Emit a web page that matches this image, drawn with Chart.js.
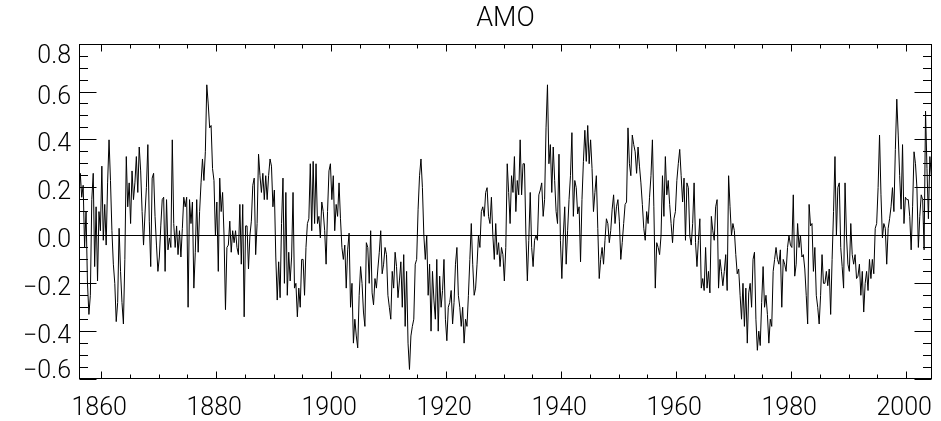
<!DOCTYPE html>
<html>
<head>
<meta charset="utf-8">
<title>AMO</title>
<script src="https://cdn.jsdelivr.net/npm/chart.js@4/dist/chart.umd.min.js"></script>
<style>
  html, body { margin: 0; padding: 0; background: #fff; }
  #wrap { width: 941px; height: 421px; }
</style>
</head>
<body>
<div id="wrap"><canvas id="amo" width="941" height="421"></canvas></div>
<script>
// Atlantic Multidecadal Oscillation index, quarterly values (4 per year) starting 1856.
const FIRST_YEAR = 1856;
const PER_YEAR = 4;

const amo1856to1880 = [
  0.14, 0.26, 0.16, 0.21,   -0.05, 0.10, -0.20, -0.33,   -0.25, 0.15, 0.26, -0.13,
  0.12, -0.19, 0.10, 0.02,   0.29, -0.02, 0.13, -0.04,   0.22, 0.40, 0.23, 0.02,
  -0.12, -0.20, -0.36, -0.28,   0.03, -0.15, -0.28, -0.37,   -0.10, 0.33, 0.12, 0.22,
  0.05, 0.27, 0.15, 0.22,   0.33, 0.18, 0.37, 0.27,   0.10, -0.04, 0.09, 0.20,
  0.38, 0.06, -0.13, 0.24,   0.26, 0.08, -0.04, -0.15,   -0.09, 0.04, 0.15, 0.16,
  -0.15, 0.15, -0.06, -0.01,   -0.05, 0.40, 0.05, -0.05,   0.04, -0.08, 0.02, -0.09,
  0.03, 0.16, 0.12, 0.16,   -0.30, 0.15, 0.05, 0.14,   -0.22, -0.07, 0.15, -0.07,
  0.10, 0.22, 0.32, 0.23,   0.35, 0.63, 0.55, 0.45,   0.46, 0.28, 0.23, 0.00,
  0.14, -0.15, 0.24, 0.10
];
const amo1881to1905 = [
  0.18, 0.00, -0.31, -0.05,   -0.04, 0.06, -0.07, 0.02,   -0.03, 0.02, -0.05, -0.08,
  0.13, -0.12, 0.13, -0.34,   0.04, 0.04, -0.14, 0.00,   0.06, 0.21, 0.24, -0.08,
  0.05, 0.34, 0.25, 0.18,   0.26, 0.15, 0.25, 0.15,   0.25, 0.32, 0.29, 0.12,
  0.19, -0.09, -0.27, -0.11,   -0.26, 0.05, 0.24, -0.20,   0.18, -0.25, -0.07, -0.19,
  -0.09, 0.18, -0.22, -0.20,   -0.34, -0.22, -0.30, -0.10,   -0.10, -0.25, -0.05, 0.05,
  0.07, 0.30, 0.02, 0.31,   0.05, 0.30, 0.05, 0.08,   -0.01, 0.14, 0.10, 0.02,
  -0.12, 0.10, 0.27, 0.30,   0.15, 0.25, 0.02, 0.13,   0.08, 0.22, 0.07, -0.05,
  -0.10, -0.04, -0.22, -0.06,   0.01, -0.30, -0.20, -0.45,   -0.35, -0.42, -0.47, -0.25,
  -0.13, -0.20, -0.32, -0.38
];
const amo1906to1930 = [
  -0.03, -0.05, -0.20, 0.02,   -0.24, -0.29, -0.18, -0.22,   -0.14, -0.07, 0.02, -0.16,
  -0.12, -0.05, -0.08, -0.25,   -0.30, -0.35, -0.15, -0.22,   -0.07, -0.13, -0.26, -0.19,
  -0.11, -0.30, -0.08, -0.38,   -0.15, -0.45, -0.56, -0.42,   -0.38, -0.35, -0.12, -0.10,
  0.11, 0.25, 0.32, 0.20,   0.00, -0.10, 0.00, -0.25,   -0.12, -0.40, -0.15, -0.27,
  -0.35, -0.10, -0.40, -0.17,   -0.30, -0.23, -0.10, -0.35,   -0.44, -0.30, -0.28, -0.23,
  -0.37, -0.28, -0.12, -0.05,   -0.25, -0.30, -0.38, -0.30,   -0.45, -0.35, -0.38, -0.25,
  -0.10, 0.05, -0.12, -0.25,   -0.22, -0.12, 0.00, -0.05,   0.10, 0.12, 0.08, 0.18,
  0.20, 0.08, 0.05, 0.16,   0.00, -0.10, 0.05, -0.08,   -0.03, -0.13, -0.05, -0.08,
  -0.19, -0.05, 0.30, 0.18
];
const amo1931to1955 = [
  0.05, 0.25, 0.18, 0.33,   0.10, 0.23, 0.17, 0.40,   0.17, 0.30, 0.30, 0.00,
  -0.19, -0.02, 0.18, -0.05,   -0.13, -0.02, 0.00, -0.02,   0.17, 0.19, 0.22, 0.08,
  0.15, 0.45, 0.63, 0.30,   0.38, 0.18, 0.37, 0.23,   0.10, 0.05, 0.34, -0.02,
  -0.18, 0.00, 0.12, -0.12,   0.02, 0.15, 0.25, 0.43,   0.08, 0.23, 0.20, 0.09,
  0.12, -0.11, 0.15, 0.31,   0.44, 0.31, 0.46, 0.30,   0.40, 0.28, 0.10, 0.18,
  0.25, 0.03, -0.18, -0.10,   -0.05, -0.12, -0.02, 0.07,   0.05, -0.03, 0.02, 0.11,
  0.17, 0.05, 0.12, 0.15,   0.06, -0.10, -0.03, 0.05,   0.13, 0.14, 0.45, 0.30,
  0.25, 0.42, 0.38, 0.35,   0.26, 0.37, 0.29, 0.22,   0.13, 0.03, -0.02, 0.10,
  0.05, 0.16, 0.25, 0.40
];
const amo1956to1980 = [
  0.12, -0.22, -0.03, -0.05,   -0.08, 0.00, 0.25, 0.08,   0.33, 0.17, 0.23, 0.13,
  0.05, -0.03, 0.07, 0.10,   0.23, 0.30, 0.36, 0.25,   0.14, 0.24, -0.02, 0.22,
  0.20, 0.00, -0.04, 0.05,   0.22, -0.03, -0.13, -0.02,   0.07, -0.22, -0.18, -0.23,
  -0.05, -0.22, -0.15, -0.24,   0.08, 0.02, -0.02, 0.12,   0.15, -0.22, -0.10, -0.15,
  -0.21, -0.15, -0.08, -0.23,   0.25, 0.12, 0.00, 0.05,   0.02, -0.08, -0.16, -0.14,
  -0.25, -0.35, -0.20, -0.38,   -0.22, -0.45, -0.24, -0.20,   -0.30, -0.10, -0.07, -0.35,
  -0.48, -0.40, -0.46, -0.28,   -0.13, -0.30, -0.25, -0.33,   -0.45, -0.35, -0.38, -0.15,
  -0.10, -0.05, -0.10, -0.12,   -0.06, -0.30, -0.10, -0.12,   -0.15, -0.05, 0.00, -0.04,
  -0.05, 0.17, -0.17, -0.12
];
const amo1981to2004 = [
  0.05, -0.05, 0.00, -0.09,   -0.08, -0.14, -0.25, -0.37,   0.13, 0.04, 0.05, -0.15,
  -0.05, -0.25, -0.30, -0.37,   -0.25, -0.08, -0.20, -0.20,   -0.15, -0.21, -0.14, -0.33,
  -0.10, 0.10, 0.33, 0.00,   0.20, 0.22, -0.05, -0.13,   -0.22, 0.22, 0.00, -0.12,
  -0.15, 0.05, -0.08, -0.12,   -0.08, -0.18, -0.17, -0.12,   -0.25, -0.15, -0.32, -0.20,
  -0.15, -0.23, -0.10, -0.18,   -0.10, -0.16, 0.03, 0.05,   0.20, 0.42, 0.17, -0.01,
  0.05, 0.03, -0.12, 0.03,   0.07, 0.12, 0.20, 0.10,   0.36, 0.57, 0.42, 0.25,
  0.11, 0.38, 0.05, 0.16,   0.15, 0.15, 0.08, -0.06,   0.12, 0.35, 0.30, 0.20,
  -0.05, 0.08, 0.17, 0.15,   -0.06, 0.52, 0.28, 0.07,   0.33, 0.25
];

// Axis ticks and labels
const yTickValues = [-0.6, -0.4, -0.2, 0.0, 0.2, 0.4, 0.6, 0.8];
const yTickLabels = ['\u22120.6', '\u22120.4', '\u22120.2', '0.0', '0.2', '0.4', '0.6', '0.8'];
const xTickYears = [1860, 1880, 1900, 1920, 1940, 1960, 1980, 2000];
const xTickLabels = ['1860', '1880', '1900', '1920', '1940', '1960', '1980', '2000'];

const X_MIN = 1856.15, X_MAX = 2004.5;
const Y_MIN = -0.6, Y_MAX = 0.8;

const amoValues = [].concat(amo1856to1880, amo1881to1905, amo1906to1930,
                            amo1931to1955, amo1956to1980, amo1981to2004);
const amoPoints = amoValues.map((v, i) => ({ x: FIRST_YEAR + (i + 0.5) / PER_YEAR, y: v }));

const FONT = '300 25px Roboto, "Liberation Sans", sans-serif';

// Boxed axes with inward ticks on all four sides
const boxAxes = {
  id: 'boxAxes',
  afterDatasetsDraw(chart) {
    const { ctx, chartArea: a, scales: { x, y } } = chart;
    const L = Math.round(a.left) + 0.5, R = Math.round(a.right) - 0.5;
    const T = Math.round(a.top) + 0.5, B = Math.round(a.bottom) - 0.5;
    ctx.save();
    ctx.strokeStyle = '#000';
    ctx.lineWidth = 1;
    ctx.strokeRect(L, T, R - L, B - T);

    ctx.beginPath();
    // y: minor every 0.05, major every 0.2
    for (let i = 0; i <= 28; i++) {
      const v = Y_MIN + i * 0.05;
      const py = Math.round(y.getPixelForValue(v) - 0.5) + 0.5;
      const len = (i % 4 === 0) ? 17 : 8.5;
      ctx.moveTo(L, py); ctx.lineTo(L + len, py);
      ctx.moveTo(R, py); ctx.lineTo(R - len, py);
    }
    // x: minor every 5 years, major every 20
    for (let yr = 1860; yr <= X_MAX; yr += 5) {
      const px = Math.round(x.getPixelForValue(yr)) + 0.5;
      const len = (yr % 20 === 0) ? 7 : 4;
      ctx.moveTo(px, B); ctx.lineTo(px, B - len);
      ctx.moveTo(px, T); ctx.lineTo(px, T + len);
    }
    ctx.stroke();

    // tick labels
    ctx.fillStyle = '#000';
    ctx.font = FONT;
    ctx.textAlign = 'right';
    ctx.textBaseline = 'alphabetic';
    const cap = 17;
    yTickValues.forEach((v, i) => {
      let cy = y.getPixelForValue(v) + 3;
      cy = Math.max(a.top + cap / 2 + 2, Math.min(a.bottom - cap / 2 - 1, cy));
      ctx.fillText(yTickLabels[i], a.left - 8, cy + cap / 2);
    });
    ctx.textAlign = 'center';
    xTickYears.forEach((yr, i) => {
      const px = x.getPixelForValue(yr) - 2;
      ctx.fillText(xTickLabels[i], px, 415);
    });
    ctx.restore();
  }
};

new Chart(document.getElementById('amo'), {
  type: 'line',
  data: {
    datasets: [
      {
        data: amoPoints,
        borderColor: '#000',
        borderWidth: 1,
        borderJoinStyle: 'round',
        pointRadius: 0,
        tension: 0
      },
      {
        data: [{ x: X_MIN, y: 0 }, { x: X_MAX, y: 0 }],
        borderColor: '#000',
        borderWidth: 1,
        pointRadius: 0,
        tension: 0
      }
    ]
  },
  options: {
    responsive: false,
    animation: false,
    events: [],
    layout: { padding: { left: 79, right: 9, top: 0, bottom: 42 } },
    scales: {
      x: { type: 'linear', min: X_MIN, max: X_MAX, display: false },
      y: { type: 'linear', min: Y_MIN, max: Y_MAX, display: false }
    },
    plugins: {
      legend: { display: false },
      tooltip: { enabled: false },
      title: {
        display: true,
        text: 'AMO',
        color: '#000',
        font: { family: 'Roboto', size: 27, weight: '300', lineHeight: 1.2 },
        padding: { top: 3, bottom: 8.77 }
      }
    }
  },
  plugins: [boxAxes]
});
</script>
</body>
</html>
